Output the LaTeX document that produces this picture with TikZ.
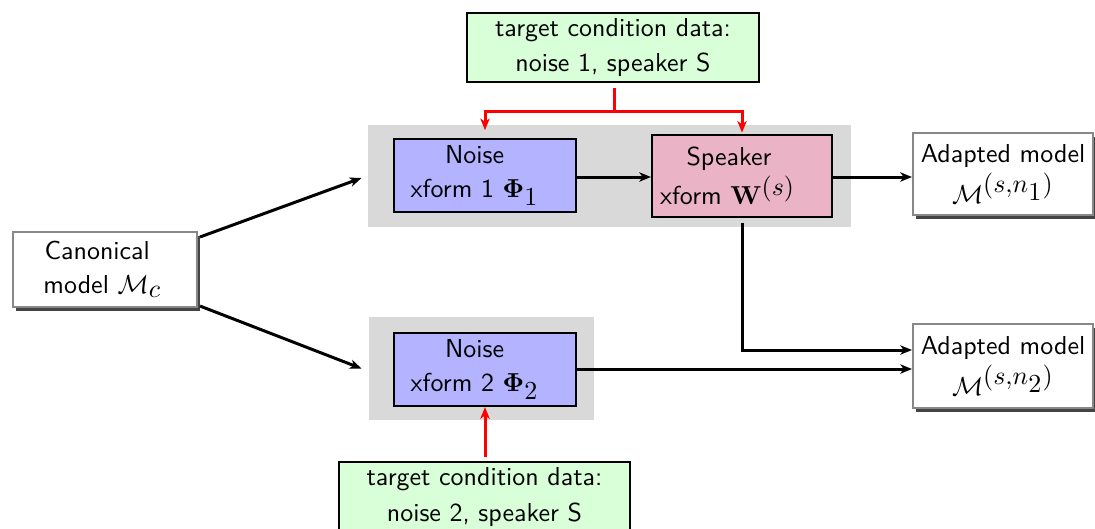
\documentclass[tikz,border=0pt]{standalone}
\usetikzlibrary{arrows.meta,calc,shadows}
\definecolor{panelgray}{HTML}{D9D9D9}
\definecolor{noiseblue}{HTML}{B3B3FF}
\definecolor{spkpink}{HTML}{EBB3C6}
\definecolor{datagreen}{HTML}{D9FFD9}
\definecolor{bordergray}{HTML}{888888}
\definecolor{shadowgray}{HTML}{444444}
\newcommand{\ts}[1]{{\textstyle #1}}
\begin{document}
\begin{tikzpicture}[x=0.385pt,y=-0.385pt,
  font=\sffamily,
  every node/.style={inner sep=0pt, align=center},
  panel/.style={fill=panelgray, draw=none},
  xbox/.style={draw=black, line width=0.8pt},
  modelbox/.style={draw=bordergray, fill=white, line width=0.8pt,
    drop shadow={shadow xshift=1.3pt, shadow yshift=-1.5pt, fill=shadowgray, opacity=1}},
  databox/.style={draw=black, fill=datagreen, line width=0.8pt},
  flow/.style={line width=1.15pt, -{Stealth[length=4.5pt,width=3.6pt,inset=1.3pt]}},
  redflow/.style={red, line width=1.15pt, -{Stealth[length=4.5pt,width=3.6pt,inset=1.3pt]}},
  redline/.style={red, line width=1.15pt}]
\useasboundingbox (0,0) rectangle (1095,528);

% panels
\node[panel, minimum width=483*0.385pt, minimum height=102*0.385pt] (panelA) at (609.5,176) {};
\node[panel, minimum width=225*0.385pt, minimum height=103*0.385pt] (panelB) at (481.5,368.5) {};

% boxes
\node[modelbox, minimum width=184*0.385pt, minimum height=75*0.385pt] (canon) at (105,269.5)
  {Canonical\hspace*{6pt}\\[1pt]model $\mathcal{M}_{\ts{c}}$\hspace*{2pt}};
\node[databox, minimum width=292*0.385pt, minimum height=69*0.385pt] (tgA) at (613,47.5)
  {target condition data:\\[1.5pt]noise 1, speaker S};
\node[xbox, fill=noiseblue, minimum width=182*0.385pt, minimum height=73*0.385pt] (noiseA) at (485,175.5)
  {Noise\hspace*{8pt}\\[1pt]xform 1 $\mathbf{\Phi}_{\ts{1}}$\hspace*{8pt}};
\node[xbox, fill=spkpink, minimum width=180*0.385pt, minimum height=82*0.385pt] (spk) at (742,176)
  {Speaker\hspace*{10pt}\\[1pt]xform $\mathbf{W}^{\ts{(s)}}$\hspace*{11pt}};
\node[modelbox, minimum width=180*0.385pt, minimum height=82*0.385pt] (adA) at (1003,174)
  {Adapted model\\[1pt]$\mathcal{M}^{\ts{(s{,}n_{\ts{1}})}}$};
\node[modelbox, minimum width=180*0.385pt, minimum height=84*0.385pt] (adB) at (1003,366)
  {Adapted model\\[1pt]$\mathcal{M}^{\ts{(s{,}n_{\ts{2}})}}$};
\node[xbox, fill=noiseblue, minimum width=182*0.385pt, minimum height=73*0.385pt] (noiseB) at (485,369.5)
  {Noise\hspace*{8pt}\\[1pt]xform 2 $\mathbf{\Phi}_{\ts{2}}$\hspace*{8pt}};
\node[databox, minimum width=291*0.385pt, minimum height=70*0.385pt] (tgB) at (484.5,497)
  {target condition data:\\[1.5pt]noise 2, speaker S};

% red connectors
\coordinate (split) at (614,111);
\draw[redline] ($(split |- tgA.south)+(0,5)$) -- (split);
\draw[redflow, shorten >=3pt] (split) -| (noiseA.north);
\draw[redflow, shorten >=0.5pt] (split) -| (spk.north);
\draw[redflow, shorten <=1.5pt] (noiseB.south |- tgB.north) -- (noiseB.south);

% black connectors
\draw[flow] ($(canon.north east)+(2,6)$) -- ($(panelA.west)+(-6,2)$);
\draw[flow] ($(canon.south east)+(2,-2)$) -- ($(panelB.west)+(-7,0)$);
\draw[flow] (noiseA.east |- 0,177) -- (spk.west |- 0,177);
\draw[flow] (spk.east |- 0,177) -- (adA.west |- 0,177);
\draw[flow] ($(spk.south)+(0,5)$) |- ($(adB.west)+(0,-16)$);
\draw[flow] (noiseB.east |- 0,369) -- (adB.west |- 0,369);
\end{tikzpicture}
\end{document}
